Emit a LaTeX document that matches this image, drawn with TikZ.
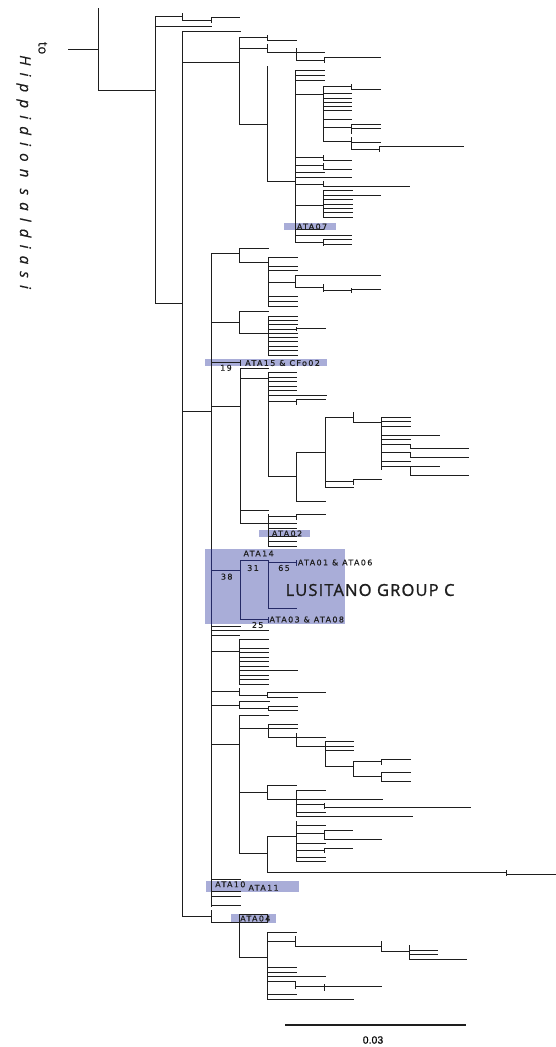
\documentclass[tikz,border=0pt]{standalone}
\usepackage{fontspec}
\setmainfont{Open Sans}
\newfontfamily\lblfont[LetterSpace=17,FakeBold=0.4]{DejaVu Sans}
\newfontfamily\bigfont[LetterSpace=7,FakeBold=1.2]{Open Sans}
\newfontfamily\hipfont[LetterSpace=48,FakeBold=0.6]{Open Sans}
\newfontfamily\tofont[FakeBold=0.6]{Open Sans}
\newfontfamily\scalefont[FakeBold=0.5]{Liberation Sans}
\definecolor{boxblue}{HTML}{A9ADD8}
\definecolor{navy}{HTML}{252A66}
\definecolor{ln}{HTML}{1E1E1E}
\colorlet{brc}{ln}
\tikzset{
  br/.style={draw=brc, line width=1pt, line cap=rect},
  lbl/.style={font=\lblfont\fontsize{8}{9}\selectfont, inner sep=0pt, text=ln, anchor=west},
  num/.style={font=\lblfont\fontsize{8}{9}\selectfont, inner sep=0pt, text=ln},
  hl/.style={fill=boxblue, draw=none}
}
\newcommand\hseg[3]{\draw[br] (#2,#1) -- (#3,#1);}
\newcommand\vseg[3]{\draw[br] (#1,#2) -- (#1,#3);}
\newcommand\treelines{%
% root
\hseg{49}{68}{98.3}
\vseg{98.3}{8.3}{90.7}
\hseg{90.7}{98.3}{155}
% node A
\vseg{155}{16}{303.3}
\hseg{16}{155}{182.7} \vseg{182.7}{13.3}{20} \hseg{20}{182.7}{211} \vseg{211}{17.3}{22.7} \hseg{17.3}{211}{239.3}
\hseg{26.7}{155}{211.7}
\hseg{303.3}{155}{182.7}
% node B
\vseg{182.7}{31}{916}
\hseg{31}{182.7}{240}
\hseg{62}{182.7}{239.3}
\vseg{239.3}{37.7}{124}
\hseg{37.7}{239.3}{267.7} \vseg{267.7}{35}{40.7} \hseg{40}{267.7}{296}
\hseg{48.3}{239.3}{267.7} \vseg{267.7}{44}{52.7} \hseg{52.7}{267.7}{324.3} \vseg{296}{48.3}{60} \hseg{60}{296}{324.3} \vseg{324.3}{57.3}{62} \hseg{57.7}{324.3}{380.7}
\hseg{124}{239.3}{267.5}
\vseg{267.5}{66}{181.7}
\hseg{181.7}{267.5}{295.7}
\vseg{295.7}{70.7}{242.3}
\foreach \y in {70.7,75,80}{\hseg{\y}{295.7}{324.3}}
\hseg{94.7}{295.7}{323.3}
\vseg{323.3}{86.7}{141.7}
\hseg{86.7}{323.3}{351.7} \vseg{351.7}{84.3}{89} \hseg{89}{351.7}{380}
\foreach \y in {93.3,98,102,106.3,110.7,119.5}{\hseg{\y}{323.3}{351.7}}
\hseg{127.3}{323.3}{351.7} \vseg{351.7}{124}{133.3} \hseg{124}{351.7}{380} \hseg{128.3}{351.7}{380}
\hseg{141.7}{323.3}{351.7} \vseg{351.7}{137.3}{149.3} \hseg{142.7}{351.7}{380} \hseg{149.3}{351.7}{379.3} \vseg{379.3}{146.7}{151.7} \hseg{146.7}{379.3}{463.3}
\hseg{157.7}{295.7}{323.3} \vseg{323.3}{155}{160} \hseg{160}{323.3}{351.7}
\hseg{165}{295.7}{323.3} \vseg{323.3}{163.3}{169} \hseg{169}{323.3}{351.7}
\hseg{172.7}{295.7}{324}
\hseg{177.7}{295.7}{351.7}
\hseg{184}{295.7}{323.3} \vseg{323.3}{181.7}{186.7} \hseg{186.7}{323.3}{409}
\hseg{205.7}{295.7}{323.3} \vseg{323.3}{190.7}{217.3}
\foreach \y in {190.7,199.7,204,208.3,212.7,217.3}{\hseg{\y}{323.3}{352.3}}
\hseg{195.3}{323.3}{380.7}
\hseg{229.5}{295.7}{323.3}
\hseg{235}{295.7}{351.7}
\hseg{242.3}{295.7}{323.3} \vseg{323.3}{239.3}{245} \hseg{239.3}{323.3}{351.7} \hseg{244}{323.3}{351.7}
% node C
\hseg{411}{182.7}{211.7}
\vseg{211.7}{253.3}{906}
\hseg{253.3}{211.7}{239.3} \vseg{239.3}{248.3}{262.7} \hseg{248.3}{239.3}{268.3} \hseg{262.7}{239.3}{268.3}
\vseg{268.3}{257.3}{306.7}
\foreach \y in {257.3,266,270.7,296.7,301.7,306.7}{\hseg{\y}{268.3}{297}}
\hseg{282.3}{268.3}{295.7} \vseg{295.7}{275}{287.3} \hseg{275}{295.7}{380.7} \hseg{287.3}{295.7}{323.3} \vseg{323.3}{284.7}{291} \hseg{290.7}{323.3}{351.7} \vseg{351.7}{288}{292.7} \hseg{289}{351.7}{380.7}
\hseg{322.7}{211.7}{239.3} \vseg{239.3}{311}{333.3} \hseg{311}{239.3}{268.3} \hseg{333.3}{239.3}{268.3}
\vseg{268.3}{316}{355}
\foreach \y in {316,320,324.3,333.3,337.7,341.7,346,350.7,355}{\hseg{\y}{268.3}{297}}
\hseg{329}{268.3}{296.7} \vseg{296.7}{327}{330.5} \hseg{328.3}{296.7}{325}
% ATA15
\hseg{362.7}{211.7}{240} \vseg{240}{360.3}{365}
% clade at 240
\hseg{406.7}{211.7}{240}
\vseg{240}{368.3}{523.3}
\hseg{368.3}{240}{268.3}
\hseg{378.3}{240}{268.3}
\vseg{268.3}{372.7}{476}
\foreach \y in {372.7,377.3,381.7,386,390.7}{\hseg{\y}{268.3}{296.7}}
\hseg{395}{268.3}{326.7}
\hseg{401.7}{268.3}{296.7} \vseg{296.7}{399.3}{404} \hseg{399.3}{296.7}{325}
\hseg{476}{268.3}{296.7} \vseg{296.7}{452.7}{501.7} \hseg{501.7}{296.7}{325} \hseg{452.7}{296.7}{325}
\vseg{325}{417.7}{487.7}
\hseg{417.7}{325}{353.3} \vseg{353.3}{412.7}{422.7} \hseg{422.7}{353.3}{381.7}
\vseg{381.7}{417.7}{469.3}
\foreach \y in {417.7,421.7,426,439.3,444.3,452.7,461.7}{\hseg{\y}{381.7}{410.7}}
\hseg{435}{381.7}{439.3}
\vseg{410.7}{444.3}{448.3} \hseg{448.3}{410.7}{468.3}
\vseg{410.7}{452.7}{457.3} \hseg{457.3}{410.7}{468.3}
\hseg{466.7}{381.7}{439.3} \vseg{410.7}{466.7}{475} \hseg{475}{410.7}{468.3}
\hseg{481.7}{325}{353.3} \vseg{353.3}{479.3}{484} \hseg{479.3}{353.3}{381.7}
\hseg{487.7}{325}{353.3}
\hseg{510.7}{240}{268.3}
\hseg{523.3}{240}{268.3}
\vseg{268.3}{514}{546}
\hseg{516.7}{268.3}{296.7} \vseg{296.7}{514.7}{519} \hseg{514.7}{296.7}{325}
\foreach \y in {523.5,528,536.5,541,546}{\hseg{\y}{268.3}{296.7}}
% LUSITANO
\hseg{570}{211.7}{240}
\vseg{240}{560.7}{619.3}
\hseg{560.7}{240}{268.3}
\vseg{268.3}{560.7}{608.3}
\hseg{562.3}{268.3}{296.7} \vseg{296.7}{560}{565}
\hseg{608.3}{268.3}{296.7}
\hseg{619.3}{240}{268.3} \vseg{268.3}{617}{622}
% below
\hseg{626}{211.7}{240}
\hseg{630}{211.7}{268.3}
\hseg{635}{211.7}{239.3}
\hseg{651.7}{211.7}{239.3} \vseg{239.3}{639.3}{684}
\foreach \y in {639.3,648.3,652.7,657.3,661.7,666,675,679.3,684}{\hseg{\y}{239.3}{268.3}}
\hseg{670.7}{239.3}{297.3}
\hseg{691}{211.7}{239.3} \vseg{239.3}{688.3}{695} \hseg{695}{239.3}{267.3} \vseg{267.3}{692.7}{697.3} \hseg{692.7}{267.3}{325.7} \hseg{697.3}{267.3}{297.3}
\hseg{705}{211.7}{239.3} \vseg{239.3}{701.7}{708.3} \hseg{701.7}{239.3}{269.3} \hseg{708.3}{239.3}{268.3} \vseg{268.3}{706}{710.7} \hseg{706}{268.3}{297.3} \hseg{710.7}{268.3}{297.3}
\hseg{744}{211.7}{239.3} \vseg{239.3}{715}{853.3}
\hseg{715}{239.3}{268.3}
\hseg{728.3}{239.3}{297.3} \vseg{268.3}{724}{737.3} \hseg{724}{268.3}{297.3}
\hseg{737.3}{268.3}{325.7} \vseg{296.7}{733}{746.5} \hseg{746.3}{296.7}{353.3}
\vseg{325.7}{741.7}{766.7}
\foreach \y in {741.7,750}{\hseg{\y}{325.7}{353.3}}
\hseg{766.7}{325.7}{353.3} \vseg{353.3}{761}{776}
\hseg{761}{353.3}{381.7} \vseg{381.7}{759}{764} \hseg{759}{381.7}{410}
\hseg{776}{353.3}{381.7} \vseg{381.7}{772.7}{781.7} \hseg{772.7}{381.7}{410.7} \hseg{781.7}{381.7}{410.7}
\hseg{792.7}{239.3}{267.3} \vseg{267.3}{785}{799.3} \hseg{785}{267.3}{296.7} \hseg{799.3}{267.3}{382.7}
\vseg{296.7}{790}{816.7}
\hseg{790}{296.7}{325.7}
\hseg{804}{296.7}{324} \vseg{324}{803.3}{808.3} \hseg{807.7}{324}{470.7}
\hseg{812.3}{296.7}{325.7}
\hseg{816.7}{296.7}{412.3}
\hseg{853.3}{239.3}{267.3} \vseg{267.3}{836.7}{872.7}
\hseg{836.7}{267.3}{296} \vseg{296}{821.7}{861.7}
\foreach \y in {825.7,843.3,857.3,861.7}{\hseg{\y}{296}{325}}
\hseg{833.3}{296}{324} \vseg{324}{830}{839.3} \hseg{830}{324}{352.7} \hseg{839.3}{324}{381.7}
\hseg{850}{296}{324} \vseg{324}{848.3}{852} \hseg{848.3}{324}{352.7}
\hseg{872.7}{267.3}{506} \vseg{506}{870}{875} \hseg{874}{506}{555}
% ATA10 clade
\foreach \y in {879,891.7,896.7,905.7}{\hseg{\y}{211.7}{240}}
% ATA04 clade
\hseg{916}{182.7}{211.7} \vseg{211.7}{910.7}{922.7} \hseg{922.7}{211.7}{267.3}
\vseg{239.3}{914.3}{957.7} \hseg{914.3}{239.3}{267.3} \vseg{267.3}{914.3}{922.7}
\hseg{957.7}{239.3}{267.3} \vseg{267.3}{932.3}{999}
\foreach \y in {932.3,967.7,972.3,994.3}{\hseg{\y}{267.3}{296}}
\hseg{976.7}{267.3}{325}
\hseg{941}{267.3}{295} \vseg{295}{936.7}{946.7} \hseg{946.7}{295}{381} \vseg{381}{941}{951.7} \hseg{951.7}{381}{409.3} \vseg{409.3}{945.7}{959} \hseg{950}{409.3}{437.3} \hseg{954}{409.3}{437.3} \hseg{959}{409.3}{466}
\hseg{981.7}{267.3}{295} \vseg{295}{981.7}{988} \hseg{986.7}{295}{324} \vseg{324}{984}{990} \hseg{986}{324}{381}
\hseg{999}{267.3}{353.3}
}
\begin{document}
\begin{tikzpicture}[x=1pt,y=-1pt]
\useasboundingbox (0,0) rectangle (555,1047);
% highlight boxes
\fill[hl] (284.3,223.3) rectangle (335.7,229.8);
\fill[hl] (205,359.3) rectangle (326.7,366);
\fill[hl] (259.3,530) rectangle (310,536.7);
\fill[hl] (205,549.3) rectangle (345,624);
\fill[hl] (206,881) rectangle (299.3,891.7);
\fill[hl] (231,914.3) rectangle (276,922.7);
% tree
\treelines
\begin{scope}
\clip (205,549.3) rectangle (345,624);
\colorlet{brc}{navy}
\treelines
\end{scope}
% scale bar
\coordinate (sbL) at (285,1025);
\coordinate (sbR) at (466,1025);
\draw[ln, line width=2pt] (sbL) -- (sbR);
\node[font=\scalefont\fontsize{10.5}{12}\selectfont, text=black, inner sep=0pt] (sblbl) at (373,1040) {0.03};
% outgroup text
\node[rotate=-90, anchor=base west, inner sep=0pt, font=\tofont\fontsize{13}{14}\selectfont, text=ln] (to) at (38.5,41.7) {to};
\node[rotate=-90, anchor=base west, inner sep=0pt, font=\hipfont\itshape\fontsize{15}{16}\selectfont, text=ln] (hip) at (20,55) {Hippidion saldiasi};
% labels
\node[lbl] (ata07) at (296.7,226.6) {ATA07};
\node[lbl] (ata15) at (245,363) {ATA15 \& CFo02};
\node[num] (n19) at (226,367.8) {19};
\node[lbl] (ata02) at (271.7,533.5) {ATA02};
\node[lbl] (ata14) at (243.3,553.5) {ATA14};
\node[num] (n31) at (253,568) {31};
\node[num] (n65) at (284,568) {65};
\node[num] (n38) at (226.7,576.7) {38};
\node[num] (n25) at (257.7,625) {25};
\node[lbl] (ata0106) at (297.7,562.5) {ATA01 \& ATA06};
\node[lbl] (ata0308) at (269.3,619.5) {ATA03 \& ATA08};
\node[anchor=west, inner sep=0pt, font=\bigfont\fontsize{16.5}{18}\selectfont, text=ln] (lus) at (285.5,590) {LUSITANO GROUP C};
\node[lbl] (ata10) at (215,884.3) {ATA10};
\node[lbl] (ata11) at (248.3,887.8) {ATA11};
\node[lbl] (ata04) at (240,918.5) {ATA04};
\end{tikzpicture}
\end{document}
